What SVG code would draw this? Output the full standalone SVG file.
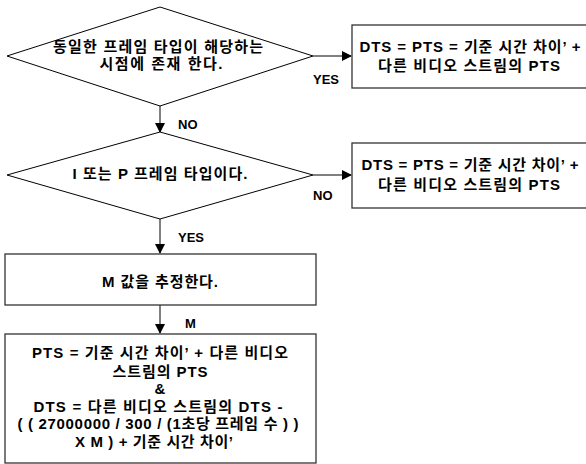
<svg xmlns="http://www.w3.org/2000/svg" width="586" height="464" viewBox="0 0 586 464">
<defs>
<marker id="ah" markerWidth="10" markerHeight="10" refX="9" refY="5" orient="auto" markerUnits="userSpaceOnUse">
<path d="M0,0 L10,5 L0,10 Z" fill="#000"/>
</marker>
<style>
.shape{fill:#fff;stroke:#000;stroke-width:1}
.box{fill:#fff;stroke:#333;stroke-width:1.3}
.t{font-family:"Liberation Sans","Noto Sans CJK KR",sans-serif;font-weight:bold;font-size:15px;fill:#000;text-anchor:middle}
.lbl{font-family:"Liberation Sans","Noto Sans CJK KR",sans-serif;font-weight:bold;font-size:13px;fill:#000}
.c{stroke:#000;stroke-width:1;fill:none;marker-end:url(#ah)}
</style>
</defs>
<rect width="586" height="464" fill="#fff"/>
<g id="connectors">
<line class="c" x1="313" y1="56" x2="351" y2="56"/>
<line class="c" x1="160" y1="106" x2="160" y2="132"/>
<line class="c" x1="313" y1="175" x2="351" y2="175"/>
<line class="c" x1="160" y1="219" x2="160" y2="253"/>
<line class="c" x1="160" y1="305" x2="160" y2="333"/>
<text class="lbl" x="313" y="84">YES</text>
<text class="lbl" x="178" y="129">NO</text>
<text class="lbl" x="313" y="200">NO</text>
<text class="lbl" x="178" y="242">YES</text>
<text class="lbl" x="185" y="328">M</text>
</g>
<g id="d1">
<polygon class="shape" points="160,7 313,56 160,106 7,56"/>
<text class="t" x="158" y="52" textLength="210" lengthAdjust="spacing">동일한 프레임 타입이 해당하는</text>
<text class="t" x="161" y="69" textLength="123" lengthAdjust="spacing">시점에 존재 한다.</text>
</g>
<g id="b1">
<rect class="box" x="352" y="25" width="240" height="63"/>
<text class="t" x="470" y="52" textLength="221" lengthAdjust="spacing">DTS = PTS = 기준 시간 차이’ +</text>
<text class="t" x="469" y="71" textLength="182" lengthAdjust="spacing">다른 비디오 스트림의 PTS</text>
</g>
<g id="d2">
<polygon class="shape" points="160,132 313,175 160,219 7,175"/>
<text class="t" x="160" y="179" textLength="175" lengthAdjust="spacing">I 또는 P 프레임 타입이다.</text>
</g>
<g id="b2">
<rect class="box" x="352" y="143" width="240" height="65"/>
<text class="t" x="470" y="170" textLength="217" lengthAdjust="spacing">DTS = PTS = 기준 시간 차이’ +</text>
<text class="t" x="469" y="190" textLength="182" lengthAdjust="spacing">다른 비디오 스트림의 PTS</text>
</g>
<g id="b3">
<rect class="box" x="5" y="254" width="311" height="51"/>
<text class="t" x="160" y="287" textLength="116" lengthAdjust="spacing">M 값을 추정한다.</text>
</g>
<g id="b4">
<rect class="box" x="5" y="334" width="311" height="129"/>
<text class="t" x="160" y="358" textLength="256" lengthAdjust="spacing">PTS = 기준 시간 차이’ + 다른 비디오</text>
<text class="t" x="160" y="377" textLength="95" lengthAdjust="spacing">스트림의 PTS</text>
<text class="t" x="160" y="394">&amp;</text>
<text class="t" x="158" y="412" textLength="249" lengthAdjust="spacing">DTS = 다른 비디오 스트림의 DTS -</text>
<text class="t" x="158" y="429" textLength="281" lengthAdjust="spacing">( ( 27000000 / 300 / (1초당 프레임 수 ) )</text>
<text class="t" x="154" y="447" textLength="158" lengthAdjust="spacing">X  M ) +  기준 시간 차이’</text>
</g>
</svg>
